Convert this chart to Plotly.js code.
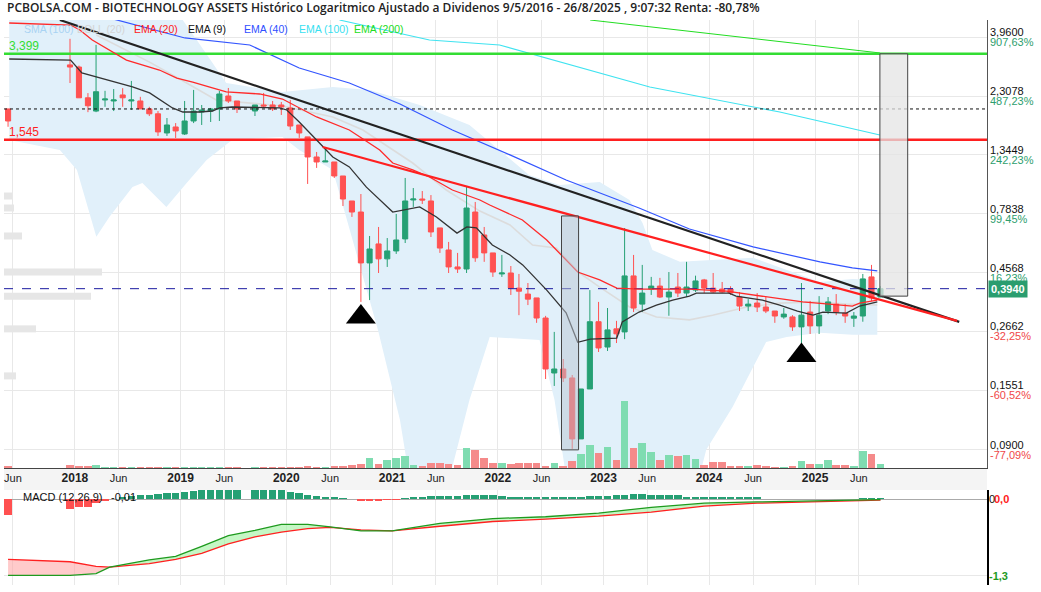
<!DOCTYPE html>
<html><head><meta charset="utf-8">
<script src="https://cdn.plot.ly/plotly-3.0.1.min.js"></script>
<style>html,body{margin:0;padding:0;background:#fff}#chart{width:1041px;height:592px}</style>
</head><body><div id="chart"></div>
<script>
// ---------- DATA ----------
const candleMonths = ['2017-05','2017-12',
 '2018-01','2018-02','2018-03','2018-04','2018-05','2018-06','2018-07','2018-08','2018-09','2018-10','2018-11','2018-12',
 '2019-01','2019-02','2019-03','2019-04','2019-05','2019-06','2019-07','2019-09','2019-10','2019-11','2019-12',
 '2020-01','2020-02','2020-03','2020-04','2020-05','2020-06','2020-07','2020-08','2020-09','2020-10','2020-11','2020-12',
 '2021-01','2021-02','2021-03','2021-04','2021-05','2021-06','2021-07','2021-08','2021-09','2021-10','2021-11','2021-12',
 '2022-01','2022-02','2022-03','2022-04','2022-05','2022-06','2022-07','2022-08','2022-09','2022-10','2022-11','2022-12',
 '2023-01','2023-02','2023-03','2023-04','2023-05','2023-06','2023-07','2023-08','2023-09','2023-10','2023-11','2023-12',
 '2024-01','2024-02','2024-03','2024-04','2024-05','2024-06','2024-07','2024-08','2024-09','2024-10','2024-11','2024-12',
 '2025-01','2025-02','2025-03','2025-04','2025-05','2025-06','2025-07','2025-08'];
const openP = [2.05,3.07,
 3.01,2.27,2.01,2.225,2.205,2.33,2.205,2.205,2.05,1.96,1.644,1.737,
 1.629,1.835,1.993,2.011,2.049,2.308,2.205,2.011,2.125,2.125,2.125,
 2.068,1.769,1.586,1.319,1.260,1.260,1.108,0.881,0.796,0.499,0.594,0.518,
 0.557,0.622,0.889,0.897,0.881,0.688,0.562,0.481,0.472,0.796,0.645,0.547,
 0.451,0.455,0.396,0.375,0.362,0.301,0.1818,0.1886,0.1737,0.0993,0.157,0.291,
 0.2307,0.2725,0.265,0.443,0.342,0.3926,0.4035,0.365,0.400,0.3785,0.389,0.427,
 0.396,0.3926,0.3926,0.365,0.336,0.3454,0.333,0.321,0.304,0.304,0.2775,0.318,
 0.280,0.321,0.342,0.315,0.3006,0.3066,0.439,0.365];
const highP = [2.05,3.90,
 3.05,2.37,3.69,2.42,2.46,2.48,2.65,2.29,2.09,2.01,1.886,1.80,
 2.205,2.44,2.125,2.068,2.417,2.484,2.205,2.125,2.373,2.205,2.185,
 2.225,1.769,1.586,1.381,1.446,1.26,1.108,0.881,0.939,0.639,0.694,0.627,
 0.782,1.088,0.992,0.965,0.930,0.688,0.605,0.547,1.010,0.873,0.694,0.547,
 0.537,0.485,0.451,0.415,0.362,0.307,0.265,0.2067,0.1785,0.157,0.389,0.349,
 0.330,0.2933,0.6875,0.537,0.490,0.439,0.435,0.459,0.455,0.504,0.444,0.431,
 0.455,0.419,0.403,0.382,0.358,0.3785,0.365,0.321,0.330,0.309,0.415,0.352,
 0.368,0.365,0.375,0.342,0.318,0.451,0.490,0.4035];
const lowP = [1.74,2.60,
 2.27,1.99,1.99,2.09,2.01,2.09,2.03,2.05,1.92,1.60,1.60,1.57,
 1.614,1.80,1.769,1.818,1.835,2.165,1.975,1.921,2.068,2.011,1.939,
 1.69,1.571,1.030,1.193,1.26,1.088,0.841,0.761,0.349,0.355,0.455,0.481,
 0.542,0.599,0.834,0.857,0.633,0.547,0.455,0.455,0.455,0.504,0.504,0.439,
 0.439,0.372,0.309,0.339,0.288,0.172,0.1614,0.1674,0.0906,0.0993,0.157,0.2204,
 0.2225,0.2393,0.248,0.318,0.318,0.372,0.3616,0.3073,0.365,0.365,0.382,0.3785,
 0.3785,0.3785,0.372,0.321,0.321,0.318,0.315,0.288,0.299,0.2675,0.2086,0.260,
 0.260,0.312,0.309,0.288,0.2775,0.291,0.352,0.365];
const closeP = [1.835,3.01,
 2.27,2.11,2.40,2.245,2.225,2.27,2.225,2.05,1.96,1.66,1.769,1.675,
 1.835,2.011,2.03,2.049,2.351,2.205,2.049,2.125,2.106,2.049,2.086,
 1.752,1.644,1.319,1.260,1.271,1.108,0.897,0.796,0.499,0.567,0.518,0.557,
 0.616,0.881,0.897,0.889,0.663,0.572,0.481,0.472,0.826,0.523,0.547,0.459,
 0.455,0.396,0.385,0.358,0.301,0.1886,0.1886,0.1737,0.0993,0.157,0.291,0.2287,
 0.270,0.2603,0.443,0.330,0.3785,0.4035,0.365,0.382,0.3785,0.400,0.423,0.396,
 0.382,0.382,0.3785,0.336,0.342,0.333,0.321,0.3066,0.312,0.2775,0.309,0.280,
 0.309,0.349,0.318,0.3066,0.3066,0.431,0.362,0.394];
const volume = [2000,3000,
 2000,2000,3000,1000,1000,1000,1000,1000,1000,1000,1000,1000,
 1000,1000,1000,1000,1000,1000,1000,1000,1000,1000,1000,
 1000,1000,2000,1000,1000,2000,2000,3000,4000,10000,4000,8000,
 10000,12000,3000,2000,5000,5000,4000,3000,20000,18000,10000,5000,
 5000,4000,5000,5000,5000,2000,5000,2000,7000,14000,23000,15000,
 21000,8000,67000,20000,25000,16000,8000,13000,12000,13000,9000,3000,
 6000,6000,2000,2000,2000,3000,2000,1000,1000,2000,7000,4000,
 4000,8000,3000,3000,2000,17000,14000,4000];
const macdHist = [-0.27,-0.17,
 -0.135,-0.135,-0.07,-0.04,0.0,0.04,0.05,0.075,0.075,0.085,0.10,0.10,
 0.12,0.13,0.16,0.16,0.18,0.18,0.18,0.18,0.18,0.18,0.15,
 0.12,0.10,0.075,0.045,0.03,0.03,0.01,0.0,-0.04,-0.04,-0.04,-0.02,
 -0.01,0.02,0.03,0.04,0.05,0.05,0.05,0.05,0.07,0.07,0.07,0.07,
 0.05,0.04,0.03,0.03,0.03,0.03,0.03,0.03,0.03,0.04,0.045,0.045,
 0.05,0.07,0.07,0.09,0.09,0.06,0.06,0.06,0.06,0.03,0.03,0.03,
 0.03,0.03,0.03,0.03,0.03,0.03,0,0,0,0,0,0,
 0,0,0,0,0,0.015,0.015,0.015];

const ema9Dates = ['2017-05-19','2017-12-17','2018-01-25','2018-03-16','2018-07-19','2018-09-16','2018-12-04','2019-01-09','2019-03-07','2019-04-21','2019-05-16','2019-06-28','2019-12-09','2020-01-03','2020-02-15','2020-04-15','2020-06-10','2020-08-06','2020-10-04','2021-01-03','2021-04-06','2021-06-03','2021-08-13','2021-09-16','2021-10-19','2021-12-13','2022-02-12','2022-03-28','2022-06-19','2022-08-25','2022-10-04','2022-11-16','2023-02-16','2023-03-07','2023-05-04','2023-07-03','2023-08-28','2023-10-25','2023-11-18','2024-03-10','2024-04-03','2024-07-03','2024-09-01','2024-11-01','2024-12-25','2025-01-28','2025-04-19','2025-06-04','2025-07-07','2025-08-04'];
const ema9 = [3.24,3.21,2.85,2.746,2.507,2.373,2.068,1.993,1.993,2.011,2.068,2.086,2.068,2.030,1.818,1.542,1.319,1.204,1.00,0.796,0.834,0.761,0.656,0.694,0.688,0.588,0.537,0.490,0.389,0.316,0.241,0.248,0.2505,0.2907,0.318,0.339,0.355,0.368,0.3785,0.3785,0.368,0.355,0.339,0.321,0.309,0.318,0.315,0.336,0.342,0.349];

const ema20Dates = ['2017-05-19','2017-12-17','2018-01-18','2018-03-02','2018-06-28','2018-10-20','2018-12-19','2019-02-12','2019-04-21','2019-06-08','2019-10-01','2019-12-19','2020-04-15','2020-08-06','2020-11-19','2021-01-03','2021-03-13','2021-05-10','2021-07-28','2021-10-31','2021-12-04','2022-03-27','2022-06-19','2022-08-13','2022-10-04','2022-12-19','2023-02-16','2023-05-04','2023-10-25','2024-03-01','2024-06-01','2024-11-19','2025-05-10','2025-06-04','2025-08-04'];
const ema20 = [4.508,4.426,4.228,3.858,3.21,2.929,2.722,2.623,2.484,2.395,2.351,2.245,1.904,1.690,1.407,1.248,1.171,1.098,0.974,0.889,0.849,0.740,0.616,0.532,0.459,0.427,0.396,0.3926,0.3926,0.385,0.372,0.349,0.336,0.345,0.355];

const bollMidDates = ['2018-03-16','2018-09-16','2019-01-22','2019-05-04','2019-12-19','2020-06-10','2020-09-22','2021-03-13','2021-07-07','2021-10-31','2022-02-12','2022-05-01','2022-07-22','2022-10-10','2022-12-19','2023-04-01','2023-07-03','2023-10-25','2024-01-13','2024-05-10','2024-09-01','2024-12-25','2025-04-19','2025-08-04'];
const bollMid = [4.04,3.15,2.60,2.225,2.106,1.904,1.690,1.248,0.974,0.803,0.707,0.588,0.572,0.455,0.40,0.333,0.304,0.296,0.309,0.333,0.345,0.349,0.342,0.339];

const bollUpDates = ['2017-05-19','2018-11-24','2019-02-26','2019-06-08','2019-12-19','2020-06-10','2020-10-16','2021-04-06','2021-09-25','2022-01-07','2022-04-19','2022-08-02','2022-12-19','2023-04-01','2023-05-16','2023-06-19','2023-09-22','2024-06-01','2024-09-25','2025-01-18','2025-05-10','2025-08-04'];
const bollUp = [5.5,5.5,3.858,2.60,2.395,2.507,2.439,2.125,1.769,1.407,1.118,1.019,1.048,0.889,0.720,0.562,0.504,0.523,0.468,0.419,0.431,0.427];
const bollLowDates = ['2017-05-19','2017-11-10','2018-01-08','2018-03-16','2018-04-30','2018-07-19','2018-08-22','2018-11-13','2019-01-22','2019-04-01','2019-06-28','2019-12-19','2020-02-15','2020-06-10','2020-11-13','2021-01-28','2021-03-01','2021-07-19','2021-09-25','2021-12-04','2022-05-25','2022-07-16','2022-08-25','2023-11-28','2023-12-22','2024-03-22','2024-06-01','2024-07-16','2024-09-25','2025-01-18','2025-05-10','2025-08-04'];
const bollLow = [1.542,1.407,1.171,0.634,0.761,1.001,1.039,0.834,1.039,1.283,1.542,1.586,1.407,1.171,0.270,0.118,0.07,0.07,0.142,0.253,0.246,0.142,0.07,0.07,0.0898,0.133,0.192,0.2415,0.253,0.263,0.258,0.258];

const ema40Dates = ['2018-04-30','2019-01-16','2019-08-28','2020-02-15','2020-08-06','2021-01-28','2021-07-28','2022-02-12','2022-08-25','2022-12-19','2023-05-04','2023-10-25','2024-06-01','2025-01-18','2025-05-10','2025-08-04'];
const ema40 = [4.72,3.93,3.685,2.983,2.60,2.145,1.690,1.345,1.068,0.948,0.826,0.681,0.578,0.504,0.477,0.464];
const ema100Dates = ['2020-07-03','2021-05-10','2022-01-07','2023-06-10','2024-09-01','2025-08-13'];
const ema100 = [4.634,3.858,3.685,2.507,1.993,1.614];
const ema200Dates = ['2022-11-16','2025-08-13'];
const ema200 = [4.634,3.425];

const trendBlackDates = ['2017-11-10','2026-05-14'];
const trendBlack = [4.634,0.2906];
const trendRedDates = ['2020-05-06','2026-05-07'];
const trendRed = [1.446,0.2933];

const levelGreen = 3.399, levelRed = 1.545, levelDotted = 2.049, lastPrice = 0.394;

const box1Dates = ['2022-08-09','2022-10-07'], box1Prices = [0.0898,0.768];
const box2Dates = ['2025-08-13','2025-11-17'], box2Prices = [0.368,3.399];

const signalDates = ['2020-09-15','2024-11-15'];
const signalPrices = [0.304,0.2135];

const profilePrices = [0.922,0.826,0.639,0.459,0.368,0.2725,0.177];
const profileVolumes = [8,10,18,98,87,32,12];

const macdDates = ['2017-05-15','2017-12-15','2018-03-15','2018-05-01','2018-09-15','2018-12-15','2019-03-15','2019-06-15','2019-09-15','2019-12-15','2020-03-15','2020-06-01','2020-09-15','2021-01-01','2021-06-15','2021-12-15','2022-06-15','2022-12-15','2023-06-15','2023-12-15','2024-06-15','2024-12-15','2025-08-15'];
const macdLine = [-1.29,-1.29,-1.26,-1.15,-1.03,-0.97,-0.80,-0.62,-0.53,-0.43,-0.43,-0.47,-0.54,-0.54,-0.41,-0.33,-0.30,-0.24,-0.14,-0.07,-0.05,-0.03,-0.01];
const signalLine = [-1.02,-1.06,-1.14,-1.15,-1.09,-1.02,-0.92,-0.76,-0.64,-0.56,-0.50,-0.48,-0.52,-0.54,-0.46,-0.38,-0.34,-0.29,-0.22,-0.12,-0.07,-0.05,-0.02];

const priceTicks = [3.96,2.3078,1.3449,0.7838,0.4568,0.2662,0.1551,0.09];
const priceTickText = ['3,9600','2,3078','1,3449','0,7838','0,4568','0,2662','0,1551','0,0900'];
const pctTickText = ['907,63%','487,23%','242,23%','99,45%','16,23%','-32,25%','-60,52%','-77,09%'];
const pctSign = [1,1,1,1,1,-1,-1,-1];

const tickDates = ['2017-06-01','2018-01-01','2018-06-01','2019-01-01','2019-06-01','2020-01-01','2020-06-01','2021-01-01','2021-06-01','2022-01-01','2022-06-01','2023-01-01','2023-06-01','2024-01-01','2024-06-01','2025-01-01','2025-06-01'];
const tickLabels = ['Jun','2018','Jun','2019','Jun','2020','Jun','2021','Jun','2022','Jun','2023','Jun','2024','Jun','2025','Jun'];

// ---------- BUILD ----------
const xRange = ['2017-05-01','2026-08-18'];
const yLogRange = [-1.1189,0.6660];
const cx = candleMonths.map(m => m + '-15');
const FONT = 'Liberation Sans, Arial, sans-serif';
const traces = [];

traces.push({type:'scatter',mode:'lines',x:bollLowDates,y:bollLow,line:{width:0,color:'rgba(0,0,0,0)'},hoverinfo:'skip'});
traces.push({type:'scatter',mode:'lines',x:bollUpDates,y:bollUp,line:{width:0,color:'rgba(0,0,0,0)'},fill:'tonexty',fillcolor:'#e1f0fa',hoverinfo:'skip'});
traces.push({type:'scatter',mode:'lines',x:bollMidDates,y:bollMid,line:{width:1.6,color:'#dcdcdc'}});
traces.push({type:'bar',x:cx,y:volume,yaxis:'y3',width:26*86400000,
  marker:{color:closeP.map((c,i)=>c>=openP[i]?'#7fdcb1':'#f58a8a'),line:{width:0}}});
traces.push({type:'candlestick',x:cx,open:openP,high:highP,low:lowP,close:closeP,yaxis:'y4',
  increasing:{line:{color:'#26a074',width:1},fillcolor:'#26a074'},
  decreasing:{line:{color:'#ff5252',width:1},fillcolor:'#ff5252'},whiskerwidth:0,hoverinfo:'skip'});
const addTop = t => { t.yaxis='y5'; traces.push(t); };
addTop({type:'scatter',mode:'lines',x:ema200Dates,y:ema200,line:{width:1,color:'#22dd22'}});
addTop({type:'scatter',mode:'lines',x:ema100Dates,y:ema100,line:{width:1.1,color:'#3fe3f0'}});
addTop({type:'scatter',mode:'lines',x:ema40Dates,y:ema40,line:{width:1.2,color:'#3355ff'}});
addTop({type:'scatter',mode:'lines',x:xRange,y:[levelGreen,levelGreen],line:{width:2.6,color:'#33dd33'}});
addTop({type:'scatter',mode:'lines',x:xRange,y:[levelRed,levelRed],line:{width:2.6,color:'#ff1f1f'}});
addTop({type:'scatter',mode:'lines',x:xRange,y:[levelDotted,levelDotted],line:{width:1,color:'#111',dash:'dot'}});
addTop({type:'scatter',mode:'lines',x:xRange,y:[lastPrice,lastPrice],line:{width:1,color:'#1a1aa0',dash:'dash'}});
addTop({type:'scatter',mode:'lines',x:ema20Dates,y:ema20,line:{width:1.3,color:'#ff2a2a'}});
addTop({type:'scatter',mode:'lines',x:ema9Dates,y:ema9,line:{width:1.3,color:'#333'}});
addTop({type:'scatter',mode:'lines',x:trendBlackDates,y:trendBlack,line:{width:2.2,color:'#222'}});
addTop({type:'scatter',mode:'lines',x:trendRedDates,y:trendRed,line:{width:2.2,color:'#ff2020'}});
addTop({type:'scatter',mode:'lines',x:[box1Dates[0],box1Dates[1],box1Dates[1],box1Dates[0],box1Dates[0]],
  y:[box1Prices[0],box1Prices[0],box1Prices[1],box1Prices[1],box1Prices[0]],fill:'toself',fillcolor:'rgba(185,198,210,0.5)',line:{color:'#444',width:1}});
addTop({type:'scatter',mode:'lines',x:[box2Dates[0],box2Dates[1],box2Dates[1],box2Dates[0],box2Dates[0]],
  y:[box2Prices[0],box2Prices[0],box2Prices[1],box2Prices[1],box2Prices[0]],fill:'toself',fillcolor:'rgba(228,228,228,0.75)',line:{color:'#444',width:1}});
addTop({type:'scatter',mode:'markers',x:signalDates,y:signalPrices,marker:{symbol:'triangle-up',size:26,color:'#000'}});
const pvx=[],pvy=[];
profilePrices.forEach((p,i)=>{pvx.push(0,profileVolumes[i],null);pvy.push(p,p,null);});
traces.push({type:'scatter',mode:'lines',x:pvx,y:pvy,xaxis:'x3',yaxis:'y',line:{width:7,color:'#e6e6e6'}});

const segs=[[0,3,'rgba(255,160,160,0.55)'],[3,11,'rgba(150,240,150,0.55)'],[11,13,'rgba(255,160,160,0.55)'],[13,22,'rgba(150,240,150,0.55)']];
segs.forEach(s=>{
  traces.push({type:'scatter',mode:'lines',x:macdDates.slice(s[0],s[1]+1),y:signalLine.slice(s[0],s[1]+1),xaxis:'x2',yaxis:'y2',line:{width:0,color:'rgba(0,0,0,0)'}});
  traces.push({type:'scatter',mode:'lines',x:macdDates.slice(s[0],s[1]+1),y:macdLine.slice(s[0],s[1]+1),xaxis:'x2',yaxis:'y2',line:{width:0,color:'rgba(0,0,0,0)'},fill:'tonexty',fillcolor:s[2]});
});
traces.push({type:'bar',x:cx,y:macdHist,xaxis:'x2',yaxis:'y2',width:26*86400000,
  marker:{color:macdHist.map(v=>v>=0?'#26a074':'#ff5050'),line:{width:0}}});
traces.push({type:'scatter',mode:'lines',x:macdDates,y:signalLine,xaxis:'x2',yaxis:'y2',line:{width:1.3,color:'#ff2020'}});
traces.push({type:'scatter',mode:'lines',x:macdDates,y:macdLine,xaxis:'x2',yaxis:'y2',line:{width:1.3,color:'#1e9a1e'}});

// ---------- ANNOTATIONS ----------
const W = 983; const px = v => (v-4)/W;
const ann = [];
ann.push({xref:'paper',yref:'paper',x:px(5),y:1,xanchor:'left',yanchor:'bottom',yshift:2,showarrow:false,
  text:'PCBOLSA.COM - BIOTECHNOLOGY ASSETS Histórico Logaritmico Ajustado a Dividenos 9/5/2016 - 26/8/2025 , 9:07:32 Renta: -80,78%',
  font:{family:'Open Sans, sans-serif',size:12,color:'#222',weight:600}});
const legendItems=[['SMA (100)','#a9d3f3',22],['BOLL (20)','#d4d4d4',75],['EMA (20)','#ff2020',132],['EMA (9)','#111',186],['EMA (40)','#2f4fff',242],['EMA (100)','#38e0f0',297],['EMA (200)','#22dd22',352]];
legendItems.forEach(l=>ann.push({xref:'paper',yref:'paper',x:px(l[2]),y:1,xanchor:'left',yanchor:'top',yshift:-1,showarrow:false,text:l[0],font:{family:FONT,size:10.5,color:l[1]}}));
priceTicks.forEach((v,i)=>{
  ann.push({xref:'paper',yref:'y',x:1,y:Math.log10(v),xanchor:'left',yanchor:'middle',xshift:1,yshift:5,showarrow:false,text:priceTickText[i],font:{family:FONT,size:11,color:'#111'}});
  ann.push({xref:'paper',yref:'y',x:1,y:Math.log10(v),xanchor:'left',yanchor:'middle',xshift:1,yshift:-5,showarrow:false,text:pctTickText[i],font:{family:FONT,size:11,color:pctSign[i]>0?'#2e9e6e':'#f04848'}});
});
ann.push({xref:'paper',yref:'y',x:1,y:Math.log10(lastPrice),xanchor:'left',yanchor:'middle',xshift:1,showarrow:false,text:'<b>0,3940</b>',bgcolor:'#2a9d6f',borderpad:2,font:{family:FONT,size:11,color:'#fff'}});
ann.push({xref:'paper',yref:'y',x:px(7),y:Math.log10(levelGreen),xanchor:'left',yanchor:'middle',yshift:8,showarrow:false,text:'3,399',font:{family:FONT,size:12,color:'#33dd33'}});
ann.push({xref:'paper',yref:'y',x:px(7),y:Math.log10(levelRed),xanchor:'left',yanchor:'middle',yshift:8,showarrow:false,text:'1,545',font:{family:FONT,size:12,color:'#ff1f1f'}});
ann.push({xref:'paper',yref:'paper',x:px(21),y:(585-497)/565,xanchor:'left',yanchor:'middle',showarrow:false,text:'MACD (12,26,9)',font:{family:FONT,size:11,color:'#111'}});
ann.push({xref:'paper',yref:'paper',x:px(109),y:(585-497)/565,xanchor:'left',yanchor:'middle',showarrow:false,text:'-0,01',font:{family:FONT,size:11,color:'#111'}});
ann.push({xref:'paper',yref:'y2',x:1,y:0,xanchor:'left',yanchor:'middle',xshift:0,showarrow:false,text:'0',font:{family:FONT,size:11,color:'#111'}});
ann.push({xref:'paper',yref:'y2',x:1,y:0,xanchor:'left',yanchor:'middle',xshift:5,showarrow:false,text:'<b>0,0</b>',font:{family:FONT,size:11,color:'#ff2020'}});
ann.push({xref:'paper',yref:'y2',x:1,y:-1.3,xanchor:'left',yanchor:'middle',xshift:0,showarrow:false,text:'<b>-1,3</b>',font:{family:FONT,size:11,color:'#1e9a1e'}});

const tickText = tickLabels.map(t=>t==='Jun'?t:'<b><span style="font-size:12px">'+t+'</span></b>');
const layout = {
  width:1041,height:592,margin:{l:4,r:54,t:20,b:7},
  paper_bgcolor:'#fff',plot_bgcolor:'#fff',showlegend:false,boxgap:0.1,bargap:0,
  font:{family:FONT,size:11,color:'#222'},
  xaxis:{type:'date',range:xRange,anchor:'y',tickvals:tickDates,ticktext:tickText,tickmode:'array',showgrid:true,gridcolor:'#e8e8e8',
    showline:true,linecolor:'#444',linewidth:1,ticks:'',tickfont:{family:FONT,size:11,color:'#222'},rangeslider:{visible:false},zeroline:false},
  yaxis:{type:'log',range:yLogRange,domain:[0.2071,1],side:'right',anchor:'x',tickvals:priceTicks,tickmode:'array',showticklabels:false,
    gridcolor:'#e8e8e8',showline:true,linecolor:'#555',linewidth:1,zeroline:false},
  xaxis2:{type:'date',range:xRange,anchor:'y2',matches:'x',tickvals:tickDates,tickmode:'array',showticklabels:false,showgrid:true,gridcolor:'#e8e8e8',
    showline:false,zeroline:false,rangeslider:{visible:false}},
  yaxis2:{range:[-1.453,0.152],domain:[0,0.1681],side:'right',anchor:'x2',tickvals:[0,-1.3],tickmode:'array',showticklabels:false,gridcolor:'#e8e8e8',
    zeroline:true,zerolinecolor:'#aaa',zerolinewidth:1,showline:true,linecolor:'#000',linewidth:1.5},
  yaxis3:{overlaying:'y',range:[0,448000],visible:false,side:'right'},
  yaxis4:{overlaying:'y',type:'log',range:yLogRange,visible:false,side:'right'},
  yaxis5:{overlaying:'y',type:'log',range:yLogRange,visible:false,side:'right'},
  xaxis3:{overlaying:'x',anchor:'y',range:[0,983],visible:false},
  shapes:[{type:'rect',xref:'paper',yref:'paper',x0:0,x1:1,y0:0.1681,y1:0.2071,fillcolor:'#f4f4f4',line:{width:0},layer:'below'}],
  annotations:ann
};
Plotly.newPlot('chart',traces,layout,{staticPlot:true,displayModeBar:false});
</script></body></html>
